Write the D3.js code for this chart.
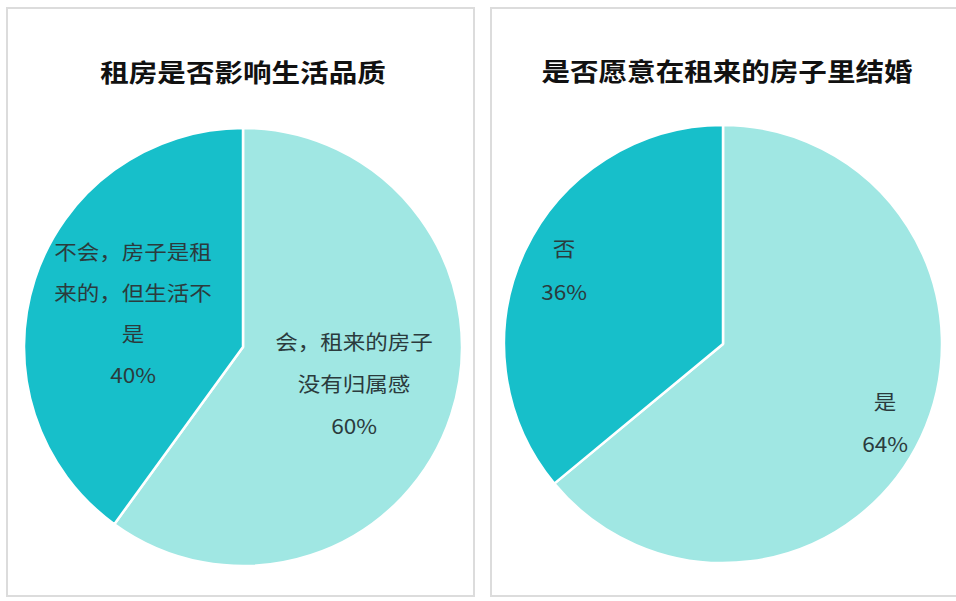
<!DOCTYPE html>
<html><head><meta charset="utf-8">
<script src="https://cdn.jsdelivr.net/npm/d3@7"></script>
<style>body{margin:0;background:#fff}svg{display:block}</style>
</head><body>
<svg id="c" width="956" height="601"></svg>
<script>
const titles = ["租房是否影响生活品质", "是否愿意在租来的房子里结婚"];
const leftCats = ["会，租来的房子没有归属感", "不会，房子是租来的，但生活不是"];
const leftVals = [60, 40];
const leftLabelLines = [["会，租来的房子", "没有归属感", "60%"], ["不会，房子是租", "来的，但生活不", "是", "40%"]];
const rightCats = ["是", "否"];
const rightVals = [64, 36];
const rightLabelLines = [["是", "64%"], ["否", "36%"]];
const colors = ["#a0e7e3", "#17bfca"];

const svg = d3.select("#c");
const font = "'Microsoft YaHei','Noto Sans CJK SC',sans-serif";

const panels = [
  {x: 7, y: 8, w: 467, h: 588, cx: 243, cy: 347, title: titles[0], tx: 243, ty: 82,
   vals: leftVals, cats: leftCats, lines: leftLabelLines,
   labelPos: [[354, 343], [133, 253]], lh: [42, 41]},
  {x: 491, y: 8, w: 470, h: 588, cx: 723, cy: 344, title: titles[1], tx: 727, ty: 81,
   vals: rightVals, cats: rightCats, lines: rightLabelLines,
   labelPos: [[885, 403], [564, 250]], lh: [42, 43]}
];

const r = 219;
const pie = d3.pie().sort(null).value(d => d);
const arc = d3.arc().innerRadius(0).outerRadius(r);

panels.forEach(p => {
  svg.append("rect").attr("x", p.x).attr("y", p.y).attr("width", p.w).attr("height", p.h)
    .attr("fill", "#fff").attr("stroke", "#dcdcdc").attr("stroke-width", 2);
  const g = svg.append("g").attr("transform", `translate(${p.cx},${p.cy})`);
  g.selectAll("path").data(pie(p.vals)).join("path")
    .attr("d", arc).attr("fill", (d, i) => colors[i])
    .attr("stroke", "#fff").attr("stroke-width", 2.5).attr("stroke-linejoin", "round");
  svg.append("text").attr("transform", `translate(${p.tx},${p.ty}) scale(1.12,1)`)
    .attr("text-anchor", "middle").attr("font-family", font).attr("font-weight", "bold")
    .attr("font-size", 25.5).attr("fill", "#111").text(p.title);
  p.lines.forEach((lines, i) => {
    const [lx, ly] = p.labelPos[i];
    const t = svg.append("text").attr("transform", `translate(${lx},${ly}) scale(1.1,1)`)
      .attr("text-anchor", "middle").attr("font-family", font).attr("font-size", 20.5)
      .attr("fill", "#2b3b3d");
    lines.forEach((s, k) => {
      t.append("tspan").attr("x", 0).attr("y", k * p.lh[i]).attr("dy", "0.36em").text(s);
    });
  });
});
</script>
</body></html>
